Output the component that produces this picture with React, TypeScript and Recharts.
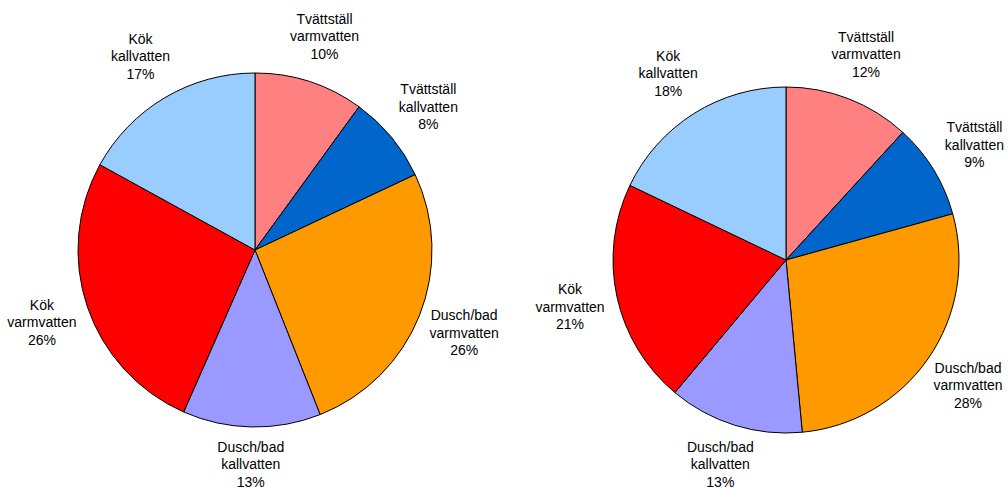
import React from "react";
import { PieChart, Pie, Cell } from "recharts";

const categories = [
  "Tvättställ varmvatten",
  "Tvättställ kallvatten",
  "Dusch/bad varmvatten",
  "Dusch/bad kallvatten",
  "Kök varmvatten",
  "Kök kallvatten",
];
const leftValues = [10, 8, 26, 12.6, 26.4, 17];
const rightValues = [11.8, 8.9, 27.8, 12.6, 21.0, 17.9];
const colors = ["#FF8080", "#0066CC", "#FF9900", "#9999FF", "#FF0000", "#99CCFF"];

const leftData = categories.map((name, i) => ({ name, value: leftValues[i] }));
const rightData = categories.map((name, i) => ({ name, value: rightValues[i] }));

const RAD = Math.PI / 180;
const CHART_W = 1008;
const CHART_H = 488;

const renderLabel = (props: any) => {
  const { cx, cy, midAngle, outerRadius, name, percent } = props;
  const r = outerRadius + 48;
  const x = Math.min(cx + r * Math.cos(-midAngle * RAD), CHART_W - 33);
  const y = Math.min(cy + r * Math.sin(-midAngle * RAD), CHART_H - 24);
  const parts = String(name).split(" ");
  const lines = [parts[0], parts.slice(1).join(" "), `${Math.round(percent * 100)}%`];
  return (
    <text
      x={x}
      y={y}
      textAnchor="middle"
      fill="#000"
      fontSize={14}
      fontFamily="'Liberation Sans', Arial, sans-serif"
    >
      {lines.map((l, i) => (
        <tspan key={i} x={x} y={y + (i - 1) * 17.5} dominantBaseline="central">
          {l}
        </tspan>
      ))}
    </text>
  );
};

export default function App() {
  return (
    <div style={{ position: "absolute", left: 0, top: 0, background: "#fff" }}>
      <PieChart width={CHART_W} height={CHART_H} margin={{ top: 0, right: 0, bottom: 0, left: 0 }}>
        <Pie
          data={leftData}
          dataKey="value"
          nameKey="name"
          cx={255}
          cy={250}
          outerRadius={177}
          startAngle={90}
          endAngle={-270}
          stroke="#000"
          strokeWidth={1}
          label={renderLabel}
          labelLine={false}
          isAnimationActive={false}
        >
          {leftData.map((d, i) => (
            <Cell key={d.name} fill={colors[i]} />
          ))}
        </Pie>
        <Pie
          data={rightData}
          dataKey="value"
          nameKey="name"
          cx={786}
          cy={260}
          outerRadius={173}
          startAngle={90}
          endAngle={-270}
          stroke="#000"
          strokeWidth={1}
          label={renderLabel}
          labelLine={false}
          isAnimationActive={false}
        >
          {rightData.map((d, i) => (
            <Cell key={d.name} fill={colors[i]} />
          ))}
        </Pie>
      </PieChart>
    </div>
  );
}
